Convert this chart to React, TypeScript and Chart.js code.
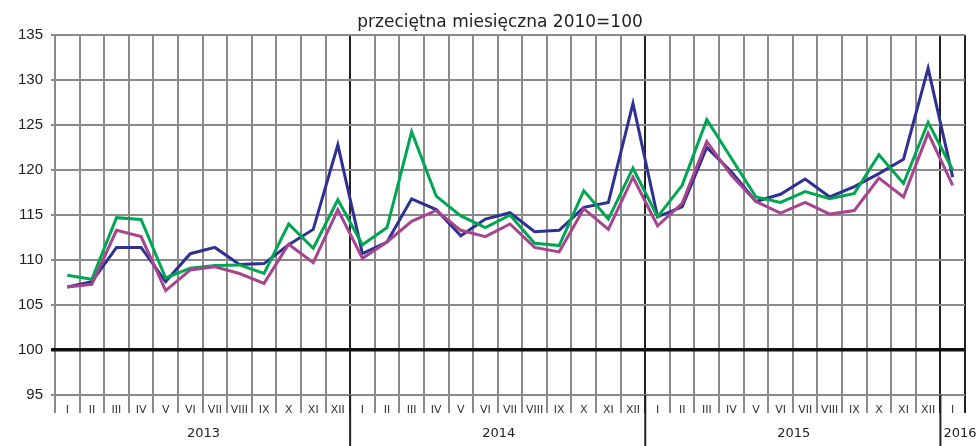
import React, { useEffect, useRef } from "react";
import { Chart, registerables } from "chart.js";

Chart.register(...registerables);

const monthLabels = [
  "I", "II", "III", "IV", "V", "VI", "VII", "VIII", "IX", "X", "XI", "XII",
  "I", "II", "III", "IV", "V", "VI", "VII", "VIII", "IX", "X", "XI", "XII",
  "I", "II", "III", "IV", "V", "VI", "VII", "VIII", "IX", "X", "XI", "XII",
  "I",
];
const years = ["2013", "2014", "2015", "2016"];
const monthsPerYear = [12, 12, 12, 1];

const seriesBlue = [
  107.0, 107.6, 111.4, 111.4, 107.6, 110.7, 111.4, 109.5, 109.6, 111.7, 113.4, 122.8,
  110.7, 112.0, 116.8, 115.6, 112.7, 114.55, 115.25, 113.15, 113.3, 115.85, 116.4, 127.4,
  114.8, 115.9, 122.5, 119.8, 116.5, 117.3, 119.0, 117.0, 118.15, 119.6, 121.2, 131.3,
  119.2,
];
const seriesGreen = [
  108.3, 107.85, 114.7, 114.5, 108.0, 109.1, 109.4, 109.45, 108.5, 114.0, 111.3, 116.7,
  111.7, 113.6, 124.25, 117.1, 114.9, 113.6, 115.0, 111.85, 111.6, 117.7, 114.55, 120.2,
  114.8, 118.3, 125.6, 121.3, 117.0, 116.4, 117.6, 116.8, 117.4, 121.7, 118.5, 125.3,
  120.0,
];
const seriesMagenta = [
  107.0, 107.3, 113.3, 112.6, 106.6, 108.9, 109.25, 108.5, 107.4, 111.75, 109.7, 115.6,
  110.2, 112.0, 114.3, 115.5, 113.3, 112.6, 114.0, 111.4, 110.9, 115.7, 113.4, 119.2,
  113.8, 116.3, 123.15, 119.4, 116.5, 115.2, 116.4, 115.1, 115.5, 119.1, 117.0, 124.1,
  118.3,
];

const yMin = 95;
const yMax = 135;
const yStep = 5;
const baseLine = 100;
const titleText = "przeciętna miesięczna 2010=100";

const yearPlugin = {
  id: "yearPlugin",
  afterDraw(chart: any) {
    const ctx = chart.ctx;
    const xs = chart.scales.x;
    const area = chart.chartArea;
    const H = chart.height;
    ctx.save();
    // title
    ctx.font = "17px 'DejaVu Sans'";
    ctx.fillStyle = "#222";
    ctx.textAlign = "center";
    ctx.textBaseline = "alphabetic";
    ctx.fillText(titleText, 500, 27);
    // years
    let start = 0;
    const seps: number[] = [];
    years.forEach((y, i) => {
      const n = monthsPerYear[i];
      const left = xs.getPixelForValue(start - 0.5);
      const right = xs.getPixelForValue(start + n - 0.5);
      if (start > 0) seps.push(left);
      ctx.font = "13px 'DejaVu Sans'";
      ctx.fillStyle = "#222";
      ctx.textAlign = "center";
      ctx.textBaseline = "middle";
      const w = ctx.measureText(y).width;
      let cx = (left + right) / 2;
      if (cx - w / 2 < left + 2) cx = left + 2 + w / 2;
      ctx.fillText(y, cx + 1, 434);
      start += n;
    });
    ctx.strokeStyle = "#222";
    ctx.lineWidth = 2;
    seps.forEach((x) => {
      ctx.beginPath();
      ctx.moveTo(x, area.bottom);
      ctx.lineTo(x, H);
      ctx.stroke();
    });
    ctx.restore();
  },
};

export default function App() {
  const ref = useRef<HTMLCanvasElement | null>(null);
  useEffect(() => {
    if (!ref.current) return;
    const yearStarts: number[] = [];
    let acc = 0;
    monthsPerYear.forEach((n) => {
      yearStarts.push(acc);
      acc += n;
    });
    const isYearLine = (idx: number | undefined) =>
      idx === undefined || (idx > 0 && yearStarts.includes(idx));
    const chart = new Chart(ref.current, {
      type: "line",
      data: {
        labels: monthLabels,
        datasets: [
          {
            label: "A",
            data: seriesBlue,
            borderColor: "#2e3192",
            borderWidth: 3,
            pointRadius: 0,
            tension: 0,
            order: 3,
          },
          {
            label: "B",
            data: seriesGreen,
            borderColor: "#00a651",
            borderWidth: 3,
            pointRadius: 0,
            tension: 0,
            order: 2,
          },
          {
            label: "C",
            data: seriesMagenta,
            borderColor: "#a6448f",
            borderWidth: 3,
            pointRadius: 0,
            tension: 0,
            order: 1,
          },
        ],
      },
      options: {
        animation: false,
        responsive: true,
        maintainAspectRatio: false,
        layout: { padding: { left: 0, right: 12, top: 35, bottom: 0 } },
        plugins: {
          legend: { display: false },
          tooltip: { enabled: false },
          title: { display: false },
        },
        scales: {
          x: {
            type: "category",
            offset: true,
            border: { display: false },
            grid: {
              offset: true,
              tickLength: 18,
              color: (c: any) => (isYearLine(c.index) ? "#222" : "#8a8a8a"),
              lineWidth: 2,
            },
            ticks: {
              autoSkip: false,
              maxRotation: 0,
              minRotation: 0,
              padding: -9,
              color: "#333",
              font: { family: "'DejaVu Sans'", size: 11 },
            },
            afterFit: (s: any) => {
              s.height = 51;
            },
          },
          y: {
            min: yMin,
            max: yMax,
            border: { display: false },
            grid: {
              tickLength: 4,
              color: (c: any) => (c.tick && c.tick.value === baseLine ? "#111" : "#8a8a8a"),
              lineWidth: (c: any) => (c.tick && c.tick.value === baseLine ? 3.5 : 2),
            },
            ticks: {
              stepSize: yStep,
              padding: 8,
              color: "#222",
              font: { family: "'Liberation Sans'", size: 15 },
            },
            afterFit: (s: any) => {
              s.width = 55;
            },
          },
        },
      },
      plugins: [yearPlugin],
    });
    return () => chart.destroy();
  }, []);
  return (
    <div style={{ position: "absolute", left: 0, top: 0, width: 977, height: 446, background: "#fff" }}>
      <canvas ref={ref} />
    </div>
  );
}
